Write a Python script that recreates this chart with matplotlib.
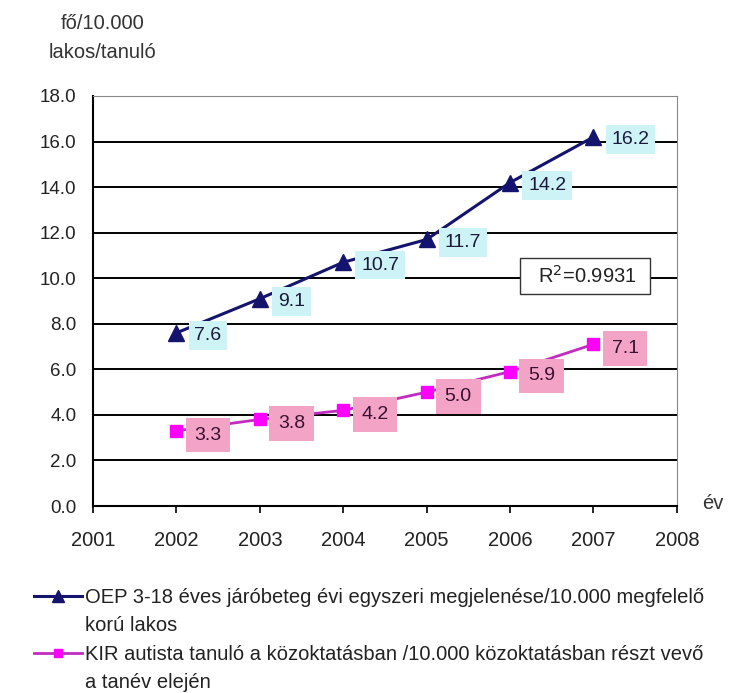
import matplotlib.pyplot as plt
from matplotlib.lines import Line2D

plt.rcParams['font.family'] = ['Liberation Sans', 'DejaVu Sans']

# adatok
evek = [2002, 2003, 2004, 2005, 2006, 2007]
oep = [7.6, 9.1, 10.7, 11.7, 14.2, 16.2]
kir = [3.3, 3.8, 4.2, 5.0, 5.9, 7.1]
x_ticks = [2001, 2002, 2003, 2004, 2005, 2006, 2007, 2008]
y_ticks = [0, 2, 4, 6, 8, 10, 12, 14, 16, 18]

oep_label = ['OEP 3-18 éves járóbeteg évi egyszeri megjelenése/10.000 megfelelő', 'korú lakos']
kir_label = ['KIR autista tanuló a közoktatásban /10.000 közoktatásban részt vevő', 'a tanév elején']

fig = plt.figure(figsize=(7.41, 6.93), dpi=100)
ax = fig.add_axes([0.1255, 0.2698, 0.788, 0.5917])

for y in y_ticks[1:-1]:
    ax.axhline(y=y, color='black', linewidth=1.4, zorder=1)

l1, = ax.plot(evek, oep, color='#14146e', linewidth=2.2, marker='^', markersize=12, zorder=3)
l2, = ax.plot(evek, kir, color='#c02cc0', linewidth=2, marker='s', markersize=8,
              markerfacecolor='#ff00ff', markeredgecolor='#ff00ff', zorder=3)

for x, y in zip(evek, oep):
    ax.annotate('%.1f' % y, (x, y), xytext=(13, -2), textcoords='offset points',
                ha='left', va='center', fontsize=14, color='#1a1a3a', zorder=4,
                bbox=dict(boxstyle='square,pad=0.3', facecolor='#cdf3f6', edgecolor='none'))
for x, y in zip(evek, kir):
    ax.annotate('%.1f' % y, (x, y), xytext=(13, -3), textcoords='offset points',
                ha='left', va='center', fontsize=14, color='#3a1030', zorder=4,
                bbox=dict(boxstyle='square,pad=0.45', facecolor='#f3a3c6', edgecolor='none'))

ax.text(2006.9, 10.1, '  R$^2$=0.9931  ', ha='center', va='center', fontsize=14.5, color='#222222', zorder=5,
        bbox=dict(boxstyle='square,pad=0.35', facecolor='white', edgecolor='#333333', linewidth=1))

ax.set_xlim(2001, 2008)
ax.set_ylim(0, 18)
ax.set_xticks(x_ticks)
ax.set_yticks(y_ticks)
ax.set_yticklabels(['%.1f' % v for v in y_ticks])
ax.tick_params(axis='y', length=0, labelsize=13.5, pad=12, labelcolor='#222222')
ax.tick_params(axis='x', direction='out', length=5, width=1.2, labelsize=14.5, pad=13, labelcolor='#222222')
ax.spines['left'].set_linewidth(1.5)
ax.spines['bottom'].set_linewidth(1.5)
ax.spines['top'].set_color('#888888')
ax.spines['right'].set_color('#888888')

fig.text(0.138, 0.945, 'fő/10.000\nlakos/tanuló', ha='center', va='center', fontsize=14.5, color='#333333', linespacing=1.65)
fig.text(0.962, 0.274, 'év', ha='center', va='center', fontsize=14.5, color='#333333')

# legenda: a jel az elso sorhoz igazodik
ures = Line2D([], [], color='none')
leg = fig.legend(handles=[l1, ures, l2, ures], labels=[oep_label[0], oep_label[1], kir_label[0], kir_label[1]],
                 loc='upper left', bbox_to_anchor=(0.035, 0.163), frameon=False,
                 fontsize=14.5, handlelength=2.4, handletextpad=0.15, labelspacing=0.46, borderaxespad=0,
                 markerscale=0.75)
for t in leg.get_texts():
    t.set_color('#222222')

fig.savefig('out.png', dpi=100)
